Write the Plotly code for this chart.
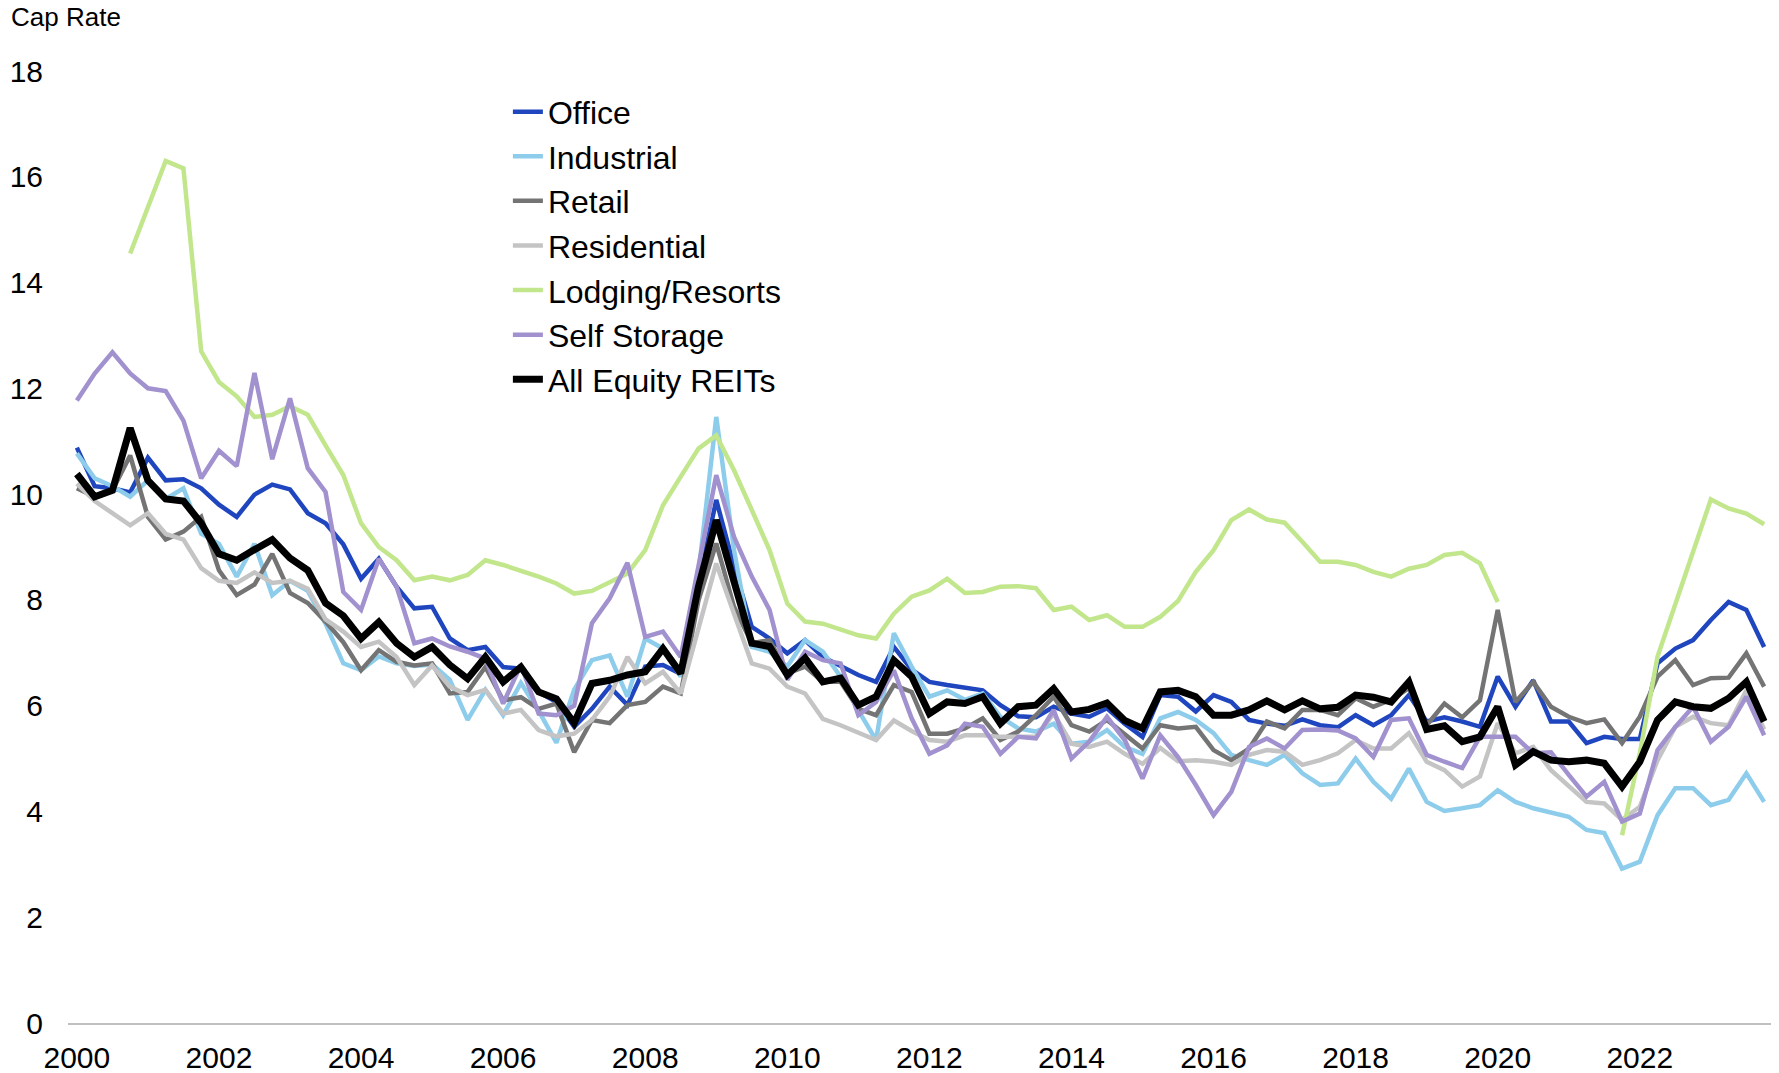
import plotly.graph_objects as go

# Quarterly periods 2000Q1 .. 2023Q4
quarters = [2000 + i / 4 for i in range(96)]
tick_years = list(range(2000, 2023, 2))

office = [10.88, 10.15, 10.11, 10.03, 10.69, 10.26, 10.28, 10.11, 9.80, 9.57, 9.99, 10.18, 10.09, 9.64, 9.45, 9.05,
          8.40, 8.78, 8.25, 7.84, 7.87, 7.27, 7.05, 7.11, 6.73, 6.70, 6.26, 6.07, 5.60, 5.94, 6.36, 6.01,
          6.74, 6.77, 6.60, 8.30, 9.89, 8.63, 7.49, 7.27, 6.99, 7.24, 6.92, 6.74, 6.58, 6.45, 7.11, 6.68,
          6.45, 6.39, 6.34, 6.29, 6.01, 5.80, 5.78, 5.98, 5.85, 5.79, 5.95, 5.66, 5.41, 6.20, 6.17, 5.89,
          6.20, 6.07, 5.73, 5.66, 5.62, 5.74, 5.63, 5.59, 5.82, 5.63, 5.82, 6.20, 5.70, 5.78, 5.70, 5.60,
          6.55, 5.98, 6.48, 5.70, 5.70, 5.29, 5.41, 5.37, 5.37, 6.80, 7.08, 7.24, 7.62, 7.96, 7.81, 7.11]

industrial = [10.77, 10.30, 10.15, 9.95, 10.26, 9.91, 10.11, 9.25, 9.06, 8.44, 9.06, 8.09, 8.36, 8.17, 7.55, 6.80,
              6.67, 6.93, 6.80, 6.75, 6.78, 6.49, 5.73, 6.30, 5.82, 6.43, 5.90, 5.30, 6.30, 6.86, 6.95, 6.17,
              7.27, 7.08, 6.55, 8.50, 11.46, 8.94, 7.11, 7.02, 6.74, 7.24, 7.02, 6.55, 5.91, 5.35, 7.37, 6.74,
              6.17, 6.29, 6.11, 6.23, 5.79, 5.57, 5.51, 5.66, 5.28, 5.32, 5.54, 5.22, 5.09, 5.76, 5.88, 5.73,
              5.48, 5.07, 4.97, 4.88, 5.07, 4.72, 4.50, 4.53, 5.00, 4.56, 4.24, 4.81, 4.18, 4.01, 4.06, 4.12,
              4.40, 4.18, 4.06, 3.98, 3.90, 3.65, 3.59, 2.92, 3.05, 3.93, 4.44, 4.44, 4.12, 4.22, 4.72, 4.18]

retail = [10.11, 9.95, 10.07, 10.73, 9.57, 9.14, 9.29, 9.57, 8.56, 8.09, 8.29, 8.87, 8.13, 7.94, 7.59, 7.20,
          6.67, 7.05, 6.83, 6.76, 6.80, 6.23, 6.26, 6.73, 6.10, 6.16, 5.94, 6.04, 5.12, 5.73, 5.67, 6.01,
          6.07, 6.36, 6.23, 7.99, 9.07, 7.87, 7.18, 7.24, 6.61, 6.74, 6.45, 6.45, 5.94, 5.82, 6.39, 6.26,
          5.47, 5.47, 5.57, 5.76, 5.35, 5.51, 5.82, 6.17, 5.63, 5.51, 5.73, 5.47, 5.19, 5.63, 5.57, 5.60,
          5.16, 4.97, 5.19, 5.70, 5.57, 5.92, 5.92, 5.82, 6.14, 5.98, 6.11, 6.33, 5.63, 6.04, 5.78, 6.10,
          7.81, 6.07, 6.45, 5.98, 5.79, 5.67, 5.74, 5.29, 5.79, 6.55, 6.86, 6.39, 6.52, 6.53, 6.99, 6.36]

residential = [10.20, 9.87, 9.64, 9.41, 9.64, 9.25, 9.14, 8.60, 8.36, 8.32, 8.52, 8.32, 8.36, 8.21, 7.63, 7.40,
               7.11, 7.21, 6.92, 6.39, 6.76, 6.36, 6.20, 6.30, 5.85, 5.92, 5.54, 5.42, 5.47, 5.73, 6.17, 6.92,
               6.42, 6.64, 6.23, 7.49, 8.69, 7.74, 6.80, 6.70, 6.36, 6.23, 5.75, 5.63, 5.50, 5.35, 5.72, 5.52,
               5.35, 5.32, 5.44, 5.44, 5.41, 5.41, 5.41, 5.85, 5.28, 5.22, 5.32, 5.09, 4.90, 5.20, 4.95, 4.97,
               4.94, 4.88, 5.07, 5.16, 5.13, 4.88, 4.97, 5.10, 5.35, 5.19, 5.19, 5.48, 4.94, 4.78, 4.47, 4.66,
               5.67, 5.10, 5.22, 4.78, 4.47, 4.18, 4.15, 3.84, 4.09, 4.97, 5.60, 5.79, 5.67, 5.63, 6.29, 5.55]

lodging = [None, None, None, 14.55, 15.42, 16.30, 16.16, 12.70, 12.12, 11.85, 11.46, 11.50, 11.66, 11.50, 10.92, 10.36,
           9.45, 9.00, 8.75, 8.37, 8.44, 8.37, 8.47, 8.75, 8.66, 8.56, 8.44, 8.31, 8.12, 8.17, 8.34, 8.50,
           8.94, 9.79, 10.33, 10.86, 11.11, 10.45, 9.70, 8.94, 7.93, 7.59, 7.55, 7.43, 7.33, 7.27, 7.74, 8.06,
           8.18, 8.40, 8.13, 8.15, 8.25, 8.26, 8.22, 7.81, 7.87, 7.62, 7.71, 7.49, 7.49, 7.68, 7.98, 8.53,
           8.94, 9.51, 9.71, 9.52, 9.46, 9.10, 8.72, 8.72, 8.66, 8.53, 8.44, 8.59, 8.66, 8.85, 8.89, 8.69,
           7.96, None, None, None, None, None, None, 3.55, 5.10, 6.93, 7.93, 8.91, 9.90, 9.73, 9.63, 9.43]

self_storage = [11.77, 12.28, 12.68, 12.28, 12.00, 11.95, 11.39, 10.30, 10.82, 10.53, 12.29, 10.66, 11.81, 10.49, 10.04, 8.15,
                7.81, 8.78, 8.25, 7.18, 7.27, 7.12, 7.02, 6.89, 6.04, 6.77, 5.85, 5.82, 6.00, 7.56, 8.03, 8.70,
                7.30, 7.40, 6.92, 8.60, 10.36, 9.19, 8.44, 7.81, 6.49, 7.02, 6.86, 6.80, 5.82, 6.07, 6.67, 5.76,
                5.09, 5.25, 5.66, 5.60, 5.09, 5.41, 5.38, 5.92, 5.00, 5.32, 5.79, 5.35, 4.62, 5.44, 5.03, 4.50,
                3.93, 4.37, 5.22, 5.38, 5.19, 5.54, 5.55, 5.53, 5.38, 5.03, 5.73, 5.76, 5.07, 4.94, 4.82, 5.41,
                5.41, 5.41, 5.10, 5.12, 4.69, 4.28, 4.56, 3.81, 3.96, 5.16, 5.60, 5.98, 5.32, 5.60, 6.17, 5.44]

all_equity = [10.38, 9.95, 10.07, 11.25, 10.26, 9.91, 9.87, 9.45, 8.87, 8.75, 8.95, 9.14, 8.79, 8.56, 7.94, 7.70,
              7.27, 7.58, 7.18, 6.92, 7.11, 6.77, 6.51, 6.92, 6.45, 6.73, 6.26, 6.13, 5.67, 6.42, 6.48, 6.58,
              6.64, 7.08, 6.61, 8.25, 9.51, 8.30, 7.18, 7.12, 6.58, 6.90, 6.45, 6.52, 6.01, 6.17, 6.86, 6.55,
              5.85, 6.07, 6.04, 6.17, 5.66, 5.98, 6.01, 6.32, 5.88, 5.93, 6.05, 5.72, 5.57, 6.26, 6.29, 6.17,
              5.82, 5.82, 5.92, 6.09, 5.92, 6.09, 5.94, 5.97, 6.20, 6.16, 6.07, 6.45, 5.55, 5.62, 5.32, 5.41,
              5.98, 4.88, 5.13, 4.97, 4.94, 4.97, 4.91, 4.47, 4.94, 5.73, 6.07, 5.98, 5.95, 6.14, 6.45, 5.70]

series = [
    ("Office", office, "#1F46BE", 4.5),
    ("Industrial", industrial, "#8DCDEB", 4.5),
    ("Retail", retail, "#747474", 4.5),
    ("Residential", residential, "#C4C4C4", 4.5),
    ("Lodging/Resorts", lodging, "#C2E68C", 4.5),
    ("Self Storage", self_storage, "#A191CF", 4.5),
    ("All Equity REITs", all_equity, "#000000", 7),
]

FONT = "Arial, 'Liberation Sans', sans-serif"

L, R, T, B = 60, 6, 63, 50
W, H = 1771, 1065
plot_w = W - L - R
plot_h = H - T - B

fig = go.Figure()
for name, vals, color, w in series:
    fig.add_trace(go.Scatter(
        x=quarters, y=vals, name=name, mode="lines",
        line=dict(color=color, width=w), connectgaps=False,
        legendgroup=name,
    ))

fig.update_layout(
    width=W, height=H,
    margin=dict(l=L, r=R, t=T, b=B, autoexpand=False),
    paper_bgcolor="white", plot_bgcolor="white",
    font=dict(family=FONT, color="black"),
    showlegend=True,
    legend=dict(
        x=0.258, y=0.986, xanchor="left", yanchor="top",
        font=dict(family=FONT, size=32, color="black"),
        bgcolor="rgba(0,0,0,0)", borderwidth=0,
        tracegroupgap=0, itemwidth=30,
    ),
    xaxis=dict(
        range=[1999.875, 2023.875], automargin=False,
        tickmode="array", tickvals=tick_years, ticktext=[str(y) for y in tick_years],
        showgrid=False, zeroline=False,
        showline=True, linecolor="#C0C0C0", linewidth=2,
        ticks="", tickfont=dict(family=FONT, size=30, color="black"),
        ticklabelstandoff=7,
    ),
    yaxis=dict(
        range=[0, 18], automargin=False, tickmode="array", tickvals=list(range(0, 19, 2)),
        showgrid=False, zeroline=False, showline=False,
        ticks="", tickfont=dict(family=FONT, size=30, color="black"),
        ticklabelstandoff=24,
    ),
    annotations=[dict(
        text="Cap Rate", xref="paper", yref="paper",
        x=-(L - 1) / plot_w, y=1 + (T - 9) / plot_h, xanchor="left", yanchor="middle",
        showarrow=False, font=dict(family=FONT, size=26, color="black"),
    )],
)

fig.write_html("out.html")
